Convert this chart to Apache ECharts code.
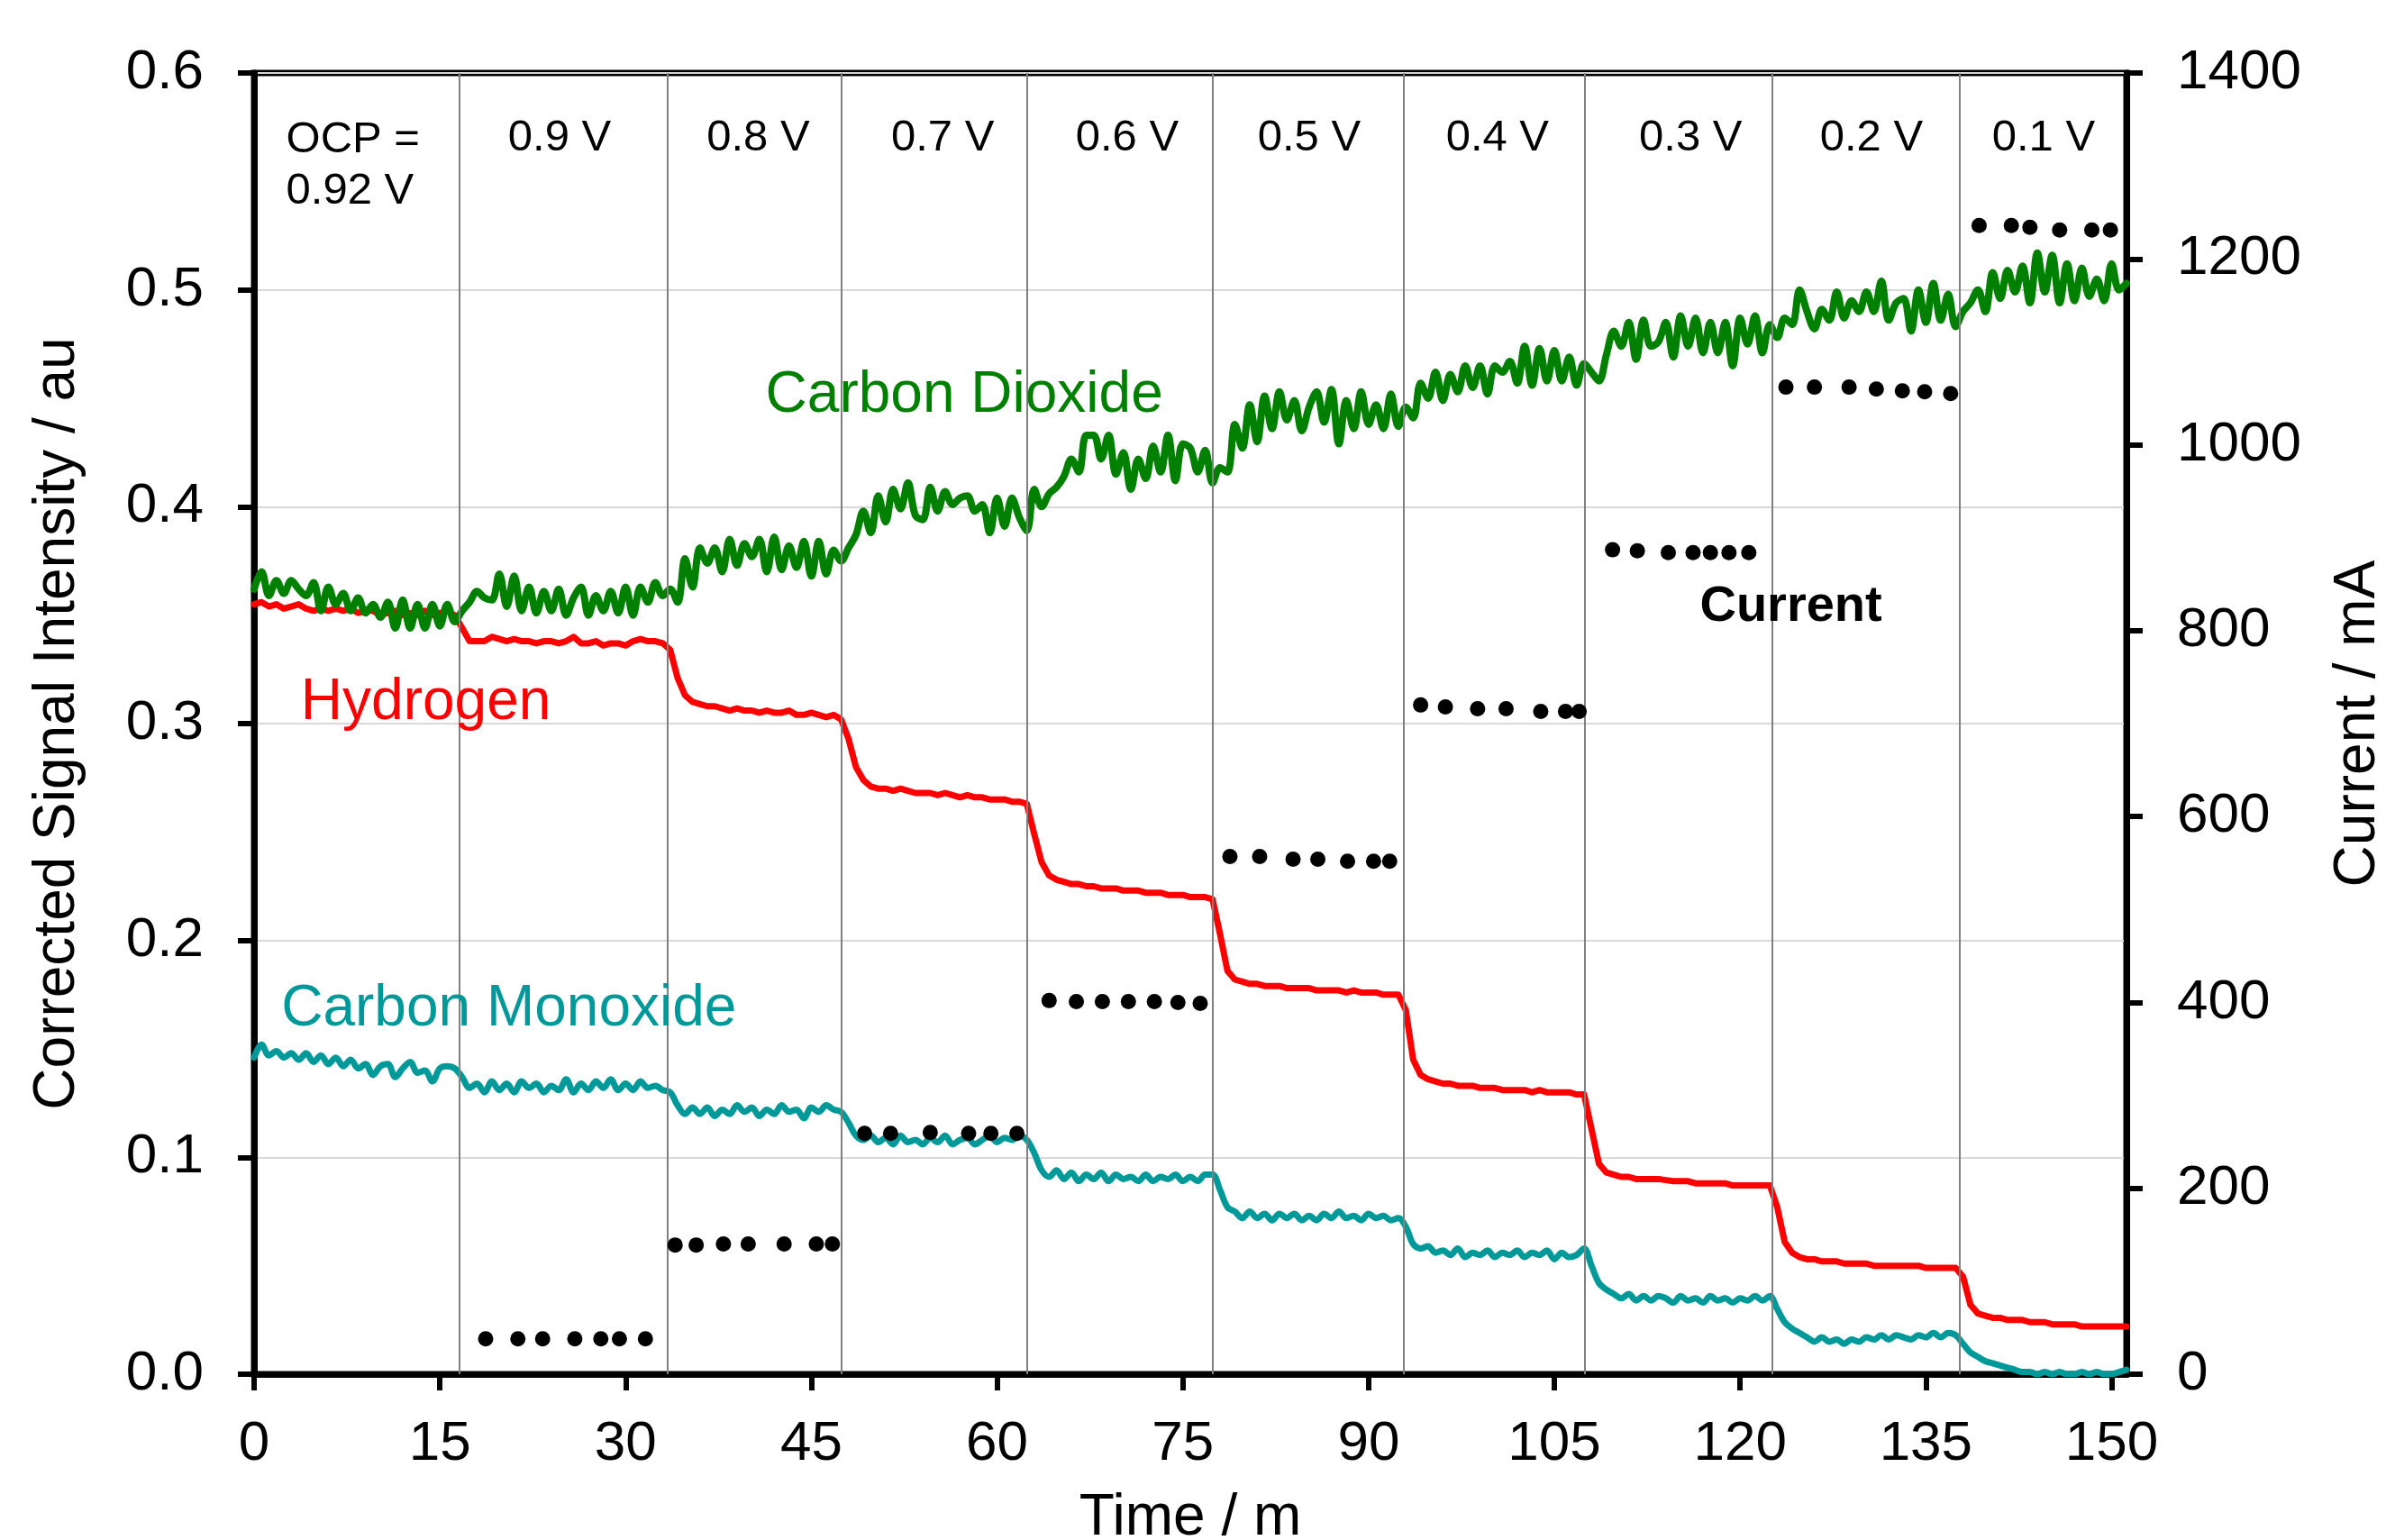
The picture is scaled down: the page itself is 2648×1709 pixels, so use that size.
<!DOCTYPE html>
<html>
<head>
<meta charset="utf-8">
<script src="https://cdn.jsdelivr.net/npm/echarts@6/dist/echarts.min.js"></script>
<style>
html,body{margin:0;padding:0;background:#ffffff;}
#chart{width:2648px;height:1709px;}
</style>
</head>
<body>
<div id="chart"></div>
<script>
// ---------------- DATA ----------------
const timeMin = [
0,0.6,1.2,1.8,2.4,3,3.6,4.2,4.8,5.4,
6,6.6,7.2,7.8,8.4,9,9.6,10.2,10.8,11.4,
12,12.6,13.2,13.8,14.4,15,15.6,16.2,16.8,17.4,
18,18.6,19.2,19.8,20.4,21,21.6,22.2,22.8,23.4,
24,24.6,25.2,25.8,26.4,27,27.6,28.2,28.8,29.4,
30,30.6,31.2,31.8,32.4,33,33.6,34.2,34.8,35.4,
36,36.6,37.2,37.8,38.4,39,39.6,40.2,40.8,41.4,
42,42.6,43.2,43.8,44.4,45,45.6,46.2,46.8,47.4,
48,48.6,49.2,49.8,50.4,51,51.6,52.2,52.8,53.4,
54,54.6,55.2,55.8,56.4,57,57.6,58.2,58.8,59.4,
60,60.6,61.2,61.8,62.4,63,63.6,64.2,64.8,65.4,
66,66.6,67.2,67.8,68.4,69,69.6,70.2,70.8,71.4,
72,72.6,73.2,73.8,74.4,75,75.6,76.2,76.8,77.4,
78,78.6,79.2,79.8,80.4,81,81.6,82.2,82.8,83.4,
84,84.6,85.2,85.8,86.4,87,87.6,88.2,88.8,89.4,
90,90.6,91.2,91.8,92.4,93,93.6,94.2,94.8,95.4,
96,96.6,97.2,97.8,98.4,99,99.6,100.2,100.8,101.4,
102,102.6,103.2,103.8,104.4,105,105.6,106.2,106.8,107.4,
108,108.6,109.2,109.8,110.4,111,111.6,112.2,112.8,113.4,
114,114.6,115.2,115.8,116.4,117,117.6,118.2,118.8,119.4,
120,120.6,121.2,121.8,122.4,123,123.6,124.2,124.8,125.4,
126,126.6,127.2,127.8,128.4,129,129.6,130.2,130.8,131.4,
132,132.6,133.2,133.8,134.4,135,135.6,136.2,136.8,137.4,
138,138.6,139.2,139.8,140.4,141,141.6,142.2,142.8,143.4,
144,144.6,145.2,145.8,146.4,147,147.6,148.2,148.8,149.4,
150,150.6,151.2
];

const carbonDioxide = [
0.362,0.370,0.359,0.366,0.360,0.366,0.362,0.359,0.365,0.352,
0.363,0.355,0.360,0.352,0.358,0.351,0.355,0.349,0.356,0.344,
0.357,0.344,0.355,0.344,0.355,0.345,0.355,0.347,0.352,0.356,
0.361,0.358,0.357,0.369,0.354,0.368,0.352,0.363,0.351,0.361,
0.352,0.362,0.350,0.358,0.363,0.350,0.359,0.352,0.361,0.351,
0.363,0.350,0.363,0.356,0.365,0.359,0.362,0.356,0.376,0.363,
0.381,0.374,0.381,0.370,0.385,0.373,0.383,0.377,0.385,0.370,
0.386,0.371,0.382,0.372,0.384,0.368,0.384,0.369,0.380,0.375,
0.381,0.387,0.398,0.388,0.405,0.393,0.408,0.399,0.411,0.396,
0.394,0.409,0.398,0.407,0.401,0.404,0.405,0.398,0.401,0.388,
0.404,0.391,0.404,0.395,0.389,0.408,0.400,0.406,0.409,0.414,
0.422,0.416,0.433,0.433,0.422,0.433,0.415,0.425,0.408,0.422,
0.413,0.428,0.416,0.433,0.412,0.429,0.427,0.416,0.426,0.411,
0.418,0.416,0.438,0.427,0.447,0.430,0.451,0.436,0.453,0.440,
0.449,0.435,0.446,0.453,0.439,0.454,0.429,0.449,0.436,0.453,
0.438,0.447,0.436,0.452,0.437,0.446,0.441,0.457,0.450,0.462,
0.449,0.461,0.453,0.465,0.455,0.465,0.452,0.465,0.462,0.467,
0.457,0.474,0.456,0.473,0.458,0.472,0.458,0.469,0.456,0.466,
0.462,0.458,0.470,0.481,0.474,0.485,0.468,0.486,0.474,0.476,
0.485,0.469,0.488,0.474,0.487,0.471,0.485,0.471,0.485,0.465,
0.487,0.475,0.488,0.471,0.484,0.478,0.487,0.484,0.500,0.490,
0.482,0.491,0.486,0.499,0.487,0.495,0.490,0.499,0.490,0.504,
0.486,0.494,0.496,0.481,0.500,0.485,0.503,0.486,0.498,0.483,
0.490,0.494,0.500,0.490,0.508,0.496,0.509,0.499,0.511,0.494,
0.517,0.499,0.516,0.494,0.512,0.495,0.510,0.497,0.505,0.495,
0.512,0.500,0.503
];

const hydrogen = [
0.355,0.356,0.354,0.355,0.353,0.354,0.355,0.353,0.352,0.353,
0.352,0.353,0.352,0.353,0.351,0.352,0.352,0.350,0.351,0.352,
0.350,0.351,0.350,0.352,0.350,0.351,0.352,0.350,0.344,0.338,
0.338,0.338,0.340,0.339,0.338,0.339,0.338,0.338,0.337,0.338,
0.338,0.337,0.338,0.340,0.337,0.337,0.338,0.336,0.337,0.337,
0.336,0.338,0.339,0.338,0.338,0.337,0.334,0.321,0.313,0.310,
0.309,0.308,0.308,0.307,0.306,0.307,0.306,0.306,0.305,0.306,
0.305,0.305,0.306,0.304,0.304,0.305,0.304,0.303,0.304,0.302,
0.293,0.280,0.274,0.271,0.270,0.270,0.269,0.270,0.269,0.268,
0.268,0.268,0.267,0.268,0.267,0.266,0.267,0.266,0.266,0.265,
0.265,0.265,0.264,0.264,0.263,0.249,0.236,0.230,0.228,0.227,
0.226,0.226,0.225,0.225,0.224,0.224,0.224,0.223,0.223,0.223,
0.222,0.222,0.222,0.221,0.221,0.221,0.220,0.220,0.220,0.219,
0.203,0.186,0.182,0.181,0.180,0.180,0.179,0.179,0.179,0.178,
0.178,0.178,0.178,0.177,0.177,0.177,0.177,0.176,0.177,0.176,
0.176,0.176,0.175,0.175,0.175,0.168,0.145,0.138,0.136,0.135,
0.134,0.134,0.133,0.133,0.133,0.132,0.132,0.132,0.131,0.131,
0.131,0.131,0.130,0.131,0.130,0.130,0.130,0.130,0.129,0.129,
0.113,0.097,0.093,0.092,0.091,0.091,0.090,0.090,0.090,0.090,
0.0895,0.089,0.089,0.089,0.088,0.088,0.088,0.088,0.088,0.087,
0.087,0.087,0.087,0.087,0.087,0.077,0.061,0.056,0.054,0.053,
0.053,0.052,0.052,0.052,0.051,0.051,0.051,0.051,0.050,0.050,
0.050,0.050,0.050,0.050,0.050,0.049,0.049,0.049,0.049,0.049,
0.045,0.032,0.028,0.027,0.026,0.026,0.025,0.025,0.025,0.024,
0.024,0.024,0.023,0.023,0.023,0.023,0.022,0.022,0.022,0.022,
0.022,0.022,0.022
];

const carbonMonoxide = [
0.146,0.152,0.147,0.149,0.146,0.148,0.145,0.148,0.144,0.147,
0.143,0.146,0.142,0.145,0.141,0.143,0.138,0.142,0.143,0.137,
0.141,0.144,0.139,0.140,0.135,0.141,0.142,0.141,0.137,0.132,
0.134,0.130,0.135,0.131,0.134,0.130,0.135,0.132,0.134,0.130,
0.133,0.131,0.136,0.130,0.134,0.131,0.135,0.132,0.136,0.131,
0.134,0.131,0.135,0.132,0.133,0.131,0.130,0.124,0.120,0.123,
0.120,0.123,0.119,0.122,0.120,0.124,0.121,0.123,0.119,0.122,
0.120,0.124,0.121,0.122,0.118,0.123,0.121,0.124,0.122,0.121,
0.116,0.110,0.108,0.110,0.107,0.109,0.106,0.110,0.107,0.108,
0.106,0.109,0.107,0.110,0.106,0.108,0.109,0.106,0.108,0.110,
0.107,0.109,0.108,0.110,0.108,0.102,0.094,0.091,0.094,0.090,
0.093,0.089,0.092,0.090,0.093,0.089,0.092,0.090,0.091,0.089,
0.092,0.089,0.091,0.090,0.092,0.089,0.091,0.089,0.092,0.092,
0.085,0.077,0.075,0.072,0.075,0.072,0.074,0.071,0.074,0.072,
0.074,0.071,0.073,0.071,0.074,0.072,0.075,0.072,0.073,0.071,
0.074,0.072,0.073,0.071,0.072,0.068,0.060,0.058,0.059,0.056,
0.057,0.055,0.058,0.054,0.056,0.055,0.057,0.054,0.056,0.055,
0.057,0.054,0.056,0.055,0.057,0.053,0.056,0.054,0.055,0.058,
0.050,0.042,0.039,0.037,0.035,0.037,0.034,0.036,0.034,0.036,
0.035,0.033,0.036,0.034,0.035,0.033,0.036,0.034,0.035,0.033,
0.035,0.034,0.036,0.034,0.036,0.030,0.024,0.021,0.019,0.017,
0.015,0.017,0.015,0.016,0.014,0.016,0.015,0.017,0.016,0.018,
0.016,0.018,0.017,0.016,0.018,0.017,0.019,0.017,0.019,0.018,
0.014,0.010,0.008,0.006,0.005,0.004,0.003,0.002,0.001,0.001,
0.000,0.001,0.000,0.001,0.000,0.000,0.001,0.000,0.001,0.000,
0.000,0.001,0.002
];

const currentTime = [
18.7,21.3,23.3,25.9,28.0,29.5,31.6,
34.0,35.7,37.9,39.9,42.8,45.4,46.7,
49.3,51.4,54.6,57.7,59.5,61.6,
64.2,66.4,68.5,70.6,72.7,74.6,76.4,
78.8,81.2,83.9,85.9,88.3,90.4,91.7,
94.2,96.2,98.8,101.1,103.9,105.9,107.0,
109.7,111.7,114.2,116.2,117.6,119.1,120.7,
123.7,126.0,128.8,131.0,133.1,134.9,137.0,
139.3,141.9,143.4,145.8,148.4,149.9
];
const currentmA = [
38,38,38,38,38,38,38,
139,139,140,140,140,140,140,
259,259,260,259,259,259,
402,401,401,401,401,400,399,
557,557,554,554,552,552,552,
720,718,716,716,713,713,713,
887,886,884,884,884,884,884,
1062,1062,1062,1060,1058,1057,1055,
1236,1236,1234,1231,1231,1231
];

const stepTimes = [16.6,33.4,47.4,62.4,77.4,92.8,107.45,122.6,137.7];
const stepLabels = ['0.9 V','0.8 V','0.7 V','0.6 V','0.5 V','0.4 V','0.3 V','0.2 V','0.1 V'];
const ocpLabel = ['OCP =','0.92 V'];
const xTicks = [0,15,30,45,60,75,90,105,120,135,150];

// ---------------- LAYOUT / STYLE ----------------
const FONT = '"Liberation Sans", Arial, Helvetica, sans-serif';
const stepLabelPos = { t:[24.67,40.7,55.6,70.5,85.2,100.4,116.0,130.6,144.5], v:0.5697 };
const ocpPos = { t:2.55, v:[0.5690,0.5455] };
const seriesNotes = [
  {text:'Carbon Dioxide',  t:57.35, v:0.451,  color:'#008000', size:64, weight:'normal'},
  {text:'Hydrogen',        t:13.87, v:0.3095, color:'#ff0000', size:64, weight:'normal'},
  {text:'Carbon Monoxide', t:20.58, v:0.1683, color:'#009999', size:64, weight:'normal'},
  {text:'Current',         t:124.1, v:0.3536, color:'#000000', size:56, weight:'bold'}
];

const zip = (xs, ys) => xs.map((x, i) => [x, ys[i]]);

const noteData = [];
seriesNotes.forEach(n => noteData.push({
  value:[n.t, n.v],
  label:{show:true, position:'inside', formatter:n.text, color:n.color, fontSize:n.size,
         fontWeight:n.weight, fontFamily:FONT, opacity:1}
}));
stepLabels.forEach((s, i) => noteData.push({
  value:[stepLabelPos.t[i], stepLabelPos.v],
  label:{show:true, position:'inside', formatter:s, color:'#000', fontSize:49, fontFamily:FONT, opacity:1}
}));
ocpLabel.forEach((s, i) => noteData.push({
  value:[ocpPos.t, ocpPos.v[i]],
  label:{show:true, position:'right', distance:0, formatter:s, color:'#000', fontSize:49, fontFamily:FONT, opacity:1}
}));

const chart = echarts.init(document.getElementById('chart'), null, {renderer:'canvas', width:2648, height:1709});

const axisTitle = {fontSize:64, color:'#000', fontFamily:FONT};
const tickLabel = {fontSize:62, color:'#000', fontFamily:FONT};

const option = {
  animation:false,
  backgroundColor:'#ffffff',
  textStyle:{fontFamily:FONT},
  grid:{left:282, right:288, top:81, bottom:184, show:true, borderColor:'#000', borderWidth:7,
        backgroundColor:'rgba(0,0,0,0)', containLabel:false, outerBoundsMode:'none'},
  xAxis:{
    type:'value', min:0, max:151.2, interval:15,
    name:'Time / m', nameLocation:'middle', nameGap:128, nameTextStyle:axisTitle,
    axisLine:{show:true, onZero:false, lineStyle:{color:'#000', width:7}},
    axisTick:{show:true, inside:false, length:18, customValues:xTicks, lineStyle:{color:'#000', width:6}},
    axisLabel:Object.assign({margin:47, customValues:xTicks}, tickLabel),
    splitLine:{show:false}
  },
  yAxis:[
    {
      type:'value', min:0, max:0.6, interval:0.1, position:'left',
      name:'Corrected Signal Intensity / au', nameLocation:'middle', nameGap:186, nameTextStyle:axisTitle,
      axisLine:{show:true, onZero:false, lineStyle:{color:'#000', width:7}},
      axisTick:{show:true, inside:false, length:18, lineStyle:{color:'#000', width:6}},
      axisLabel:Object.assign({margin:56, formatter:v => v.toFixed(1)}, tickLabel),
      splitLine:{show:true, lineStyle:{color:'#d9d9d9', width:2}}
    },
    {
      type:'value', min:0, max:1400, interval:200, position:'right',
      name:'Current / mA', nameLocation:'middle', nameGap:225, nameTextStyle:axisTitle,
      axisLine:{show:true, onZero:false, lineStyle:{color:'#000', width:7}},
      axisTick:{show:true, inside:false, length:18, lineStyle:{color:'#000', width:6}},
      axisLabel:Object.assign({margin:56, formatter:v => String(Math.round(v))}, tickLabel),
      splitLine:{show:false}
    }
  ],
  series:[
    {
      name:'steps', type:'line', data:[[0,0]], showSymbol:false, silent:true,
      lineStyle:{opacity:0}, z:1,
      markLine:{silent:true, symbol:['none','none'], animation:false, label:{show:false},
        lineStyle:{color:'#808080', width:2, type:'solid'},
        emphasis:{disabled:true},
        data:stepTimes.map(t => ({xAxis:t}))}
    },
    {
      name:'Hydrogen', type:'line', data:zip(timeMin, hydrogen), showSymbol:false, silent:true,
      lineStyle:{color:'#ff0000', width:7, join:'round', cap:'round', opacity:1}, itemStyle:{color:'#ff0000'}, z:3
    },
    {
      name:'Carbon Monoxide', type:'line', data:zip(timeMin, carbonMonoxide), showSymbol:false, silent:true,
      smooth:0.35,
      lineStyle:{color:'#009999', width:7, join:'round', cap:'round', opacity:1}, itemStyle:{color:'#009999'}, z:3
    },
    {
      name:'Carbon Dioxide', type:'line', data:zip(timeMin, carbonDioxide), showSymbol:false, silent:true,
      smooth:0.35,
      lineStyle:{color:'#008000', width:8, join:'round', cap:'round', opacity:1}, itemStyle:{color:'#008000'}, z:4
    },
    {
      name:'Current', type:'scatter', yAxisIndex:1, data:zip(currentTime, currentmA),
      symbol:'circle', symbolSize:17, silent:true, itemStyle:{color:'#000000', opacity:1}, z:5
    },
    {
      name:'notes', type:'scatter', data:noteData, symbolSize:1, silent:true,
      itemStyle:{color:'rgba(0,0,0,0)', opacity:1}, z:6
    }
  ]
};
chart.setOption(option);
</script>
</body>
</html>
